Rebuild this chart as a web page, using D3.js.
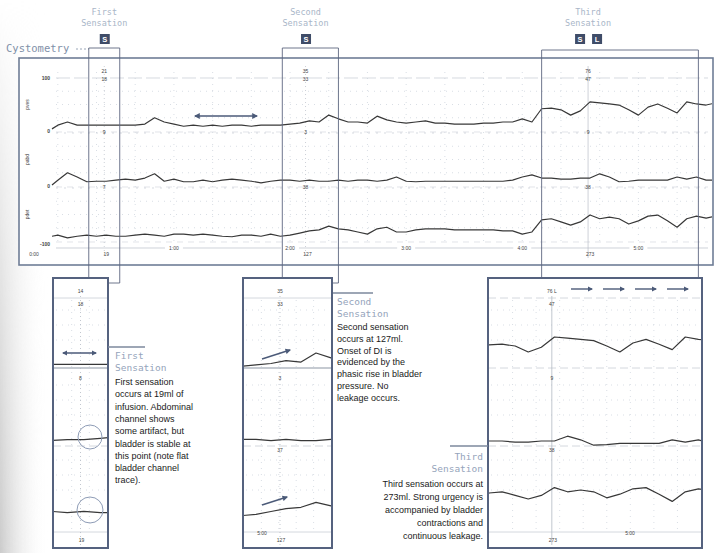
<!DOCTYPE html>
<html>
<head>
<meta charset="utf-8">
<title>Cystometry</title>
<script src="https://d3js.org/d3.v7.min.js"></script>
<style>
  body { margin: 0; background: #fff; }
  .mono { font-family: "DejaVu Sans Mono", monospace; }
  .note { font-family: "Liberation Sans", Arial, sans-serif; font-size: 9px; fill: #1a1a1a; }
  .tiny { font-family: "Liberation Sans", Arial, sans-serif; font-size: 5px; fill: #444; }
  .trace { fill: none; stroke: #383838; stroke-width: 1.2px; stroke-linejoin: round; }
  .grid { stroke: #cfd5de; stroke-width: 0.8px; stroke-dasharray: 1 5; }
</style>
</head>
<body>
<div id="chart"></div>
<script>
// sample times (s) of the recording
const time = [-3, 0, 5, 10, 15, 20, 25, 30, 35, 40, 45, 50, 55, 60, 65, 70, 75, 80, 85, 90,
  95, 100, 105, 110, 115, 120, 125, 130, 135, 140, 145, 150, 155, 160, 165, 170, 175, 180,
  185, 190, 195, 200, 205, 210, 215, 220, 225, 230, 235, 240, 245, 250, 255, 260, 265, 270,
  275, 280, 285, 290, 295, 300, 305, 310, 315, 320, 325, 330, 335, 340];

// bladder (vesical) pressure, cmH2O
const pves = [4, 11, 17, 11, 11, 11, 11, 11, 11, 11, 13, 25, 17, 13, 9, 11, 9, 11, 9, 11,
  11, 9, 11, 11, 11, 13, 15, 19, 17, 30, 23, 17, 17, 15, 28, 21, 17, 15,
  17, 19, 15, 15, 13, 13, 13, 15, 15, 17, 17, 23, 17, 42, 43, 40, 30, 38,
  55, 53, 51, 49, 40, 30, 45, 51, 43, 34, 55, 51, 49, 53];

// abdominal pressure, cmH2O
const pabd = [2, 11, 25, 17, 8, 9, 9, 11, 13, 11, 15, 23, 9, 13, 8, 8, 11, 8, 11, 13,
  11, 9, 6, 9, 11, 11, 9, 11, 9, 9, 11, 9, 11, 11, 9, 11, 17, 9,
  8, 9, 9, 9, 9, 9, 9, 9, 9, 9, 11, 17, 21, 15, 15, 13, 13, 15,
  15, 23, 17, 8, 9, 11, 11, 11, 11, 17, 13, 17, 11, 11];

// detrusor pressure, cmH2O
const pdet = [9, 11, 6, 9, 11, 9, 11, 9, 9, 11, 13, 11, 9, 13, 13, 11, 13, 11, 9, 8,
  11, 11, 9, 13, 9, 11, 15, 19, 21, 28, 23, 21, 17, 13, 23, 26, 17, 17,
  21, 23, 23, 23, 21, 21, 21, 21, 21, 19, 19, 13, 17, 40, 42, 36, 30, 36,
  49, 42, 45, 42, 32, 38, 47, 49, 38, 26, 42, 47, 43, 47];

const channels = ["pves", "pabd", "pdet"];
const series = [pves, pabd, pdet];
const bandLabels = [["100", "0"], [null, "0"], [null, "-100"]];

const sensationNames = ["First", "Second", "Third"];
const sensationTime = [24, 128, 274];
const sensationVolume = [19, 127, 273];
const sensationBadges = [["S"], ["S"], ["S", "L"]];
const windows = [[16, 32], [116, 145], [250, 331]];
const readTop = [["21", "18"], ["35", "33"], ["76", "47"]];
const readMid = ["9", "3", "9"];
const readLow = ["7", "38", "38"];
const minuteTicks = [60, 120, 180, 240, 300];
const minuteLabels = ["1:00", "2:00", "3:00", "4:00", "5:00"];

const insetTop = [["14", "18"], ["35", "33"], ["76", "47"]];
const insetMid = ["8", "3", "9"];
const insetLow = ["", "37", "38"];

const notes = [
  ["First sensation", "occurs at 19ml of", "infusion. Abdominal", "channel shows",
   "some artifact, but", "bladder is stable at", "this point (note flat",
   "bladder channel", "trace)."],
  ["Second sensation", "occurs at 127ml.", "Onset of DI is", "evidenced by the",
   "phasic rise in bladder", "pressure. No", "leakage occurs."],
  ["Third sensation occurs at", "273ml. Strong urgency is", "accompanied by bladder",
   "contractions and", "continuous leakage."]
];

const W = 714, H = 553;
const svg = d3.select("#chart").append("svg").attr("width", W).attr("height", H);
const defs = svg.append("defs");

// soft grey shading down the lower-left edge
const grad = defs.append("linearGradient").attr("id", "shade");
grad.append("stop").attr("offset", "0%").attr("stop-color", "#cbcbcb");
grad.append("stop").attr("offset", "100%").attr("stop-color", "#fff").attr("stop-opacity", 0);
const fade = defs.append("linearGradient").attr("id", "fade").attr("x1", 0).attr("x2", 0).attr("y1", 0).attr("y2", 1);
fade.append("stop").attr("offset", "0%").attr("stop-color", "#fff").attr("stop-opacity", 0);
fade.append("stop").attr("offset", "45%").attr("stop-color", "#fff").attr("stop-opacity", 0.5);
fade.append("stop").attr("offset", "100%").attr("stop-color", "#fff").attr("stop-opacity", 1);
defs.append("mask").attr("id", "fadeMask").append("rect")
  .attr("x", 0).attr("y", 0).attr("width", 50).attr("height", H).attr("fill", "url(#fade)");
svg.append("rect").attr("x", 0).attr("y", 0).attr("width", 48).attr("height", H)
  .attr("fill", "url(#shade)").attr("mask", "url(#fadeMask)");

const mk = (id, color) => {
  defs.append("marker").attr("id", id).attr("viewBox", "0 0 10 10").attr("refX", 8).attr("refY", 5)
    .attr("markerWidth", 4).attr("markerHeight", 4).attr("orient", "auto-start-reverse")
    .append("path").attr("d", "M0,0L10,5L0,10z").attr("fill", color);
};
mk("arr", "#4b5a78");

// ---------- main cystometry panel ----------
const panel = { x0: 19, x1: 713, y0: 58, y1: 265 };
const x = d3.scaleLinear().domain([-3, 337]).range([52, 710]);
const bandBase = [131, 186, 241];
const yMain = bandBase.map(b => d3.scaleLinear().domain([0, 100]).range([b, b - 53]));

svg.append("text").attr("class", "mono").attr("x", 6).attr("y", 52)
  .attr("font-size", 10.5).attr("fill", "#7f90a8").text("Cystometry");
svg.append("line").attr("x1", 76).attr("x2", 89).attr("y1", 49).attr("y2", 49)
  .attr("stroke", "#9aa6b8").attr("stroke-dasharray", "2 2");

svg.append("rect").attr("x", panel.x0).attr("y", panel.y0)
  .attr("width", panel.x1 - panel.x0).attr("height", panel.y1 - panel.y0)
  .attr("fill", "#fff").attr("stroke", "#6f7d96").attr("stroke-width", 1.6);

defs.append("clipPath").attr("id", "mainClip").append("rect")
  .attr("x", 50).attr("y", panel.y0).attr("width", panel.x1 - 51).attr("height", panel.y1 - panel.y0);

const gMain = svg.append("g");

// dotted grid
const gridT = d3.range(0, 340, 20);
gMain.selectAll("line.vg").data(gridT).join("line").attr("class", "grid")
  .attr("x1", d => x(d)).attr("x2", d => x(d)).attr("y1", 72).attr("y2", 244);
yMain.forEach((ys, i) => {
  gMain.selectAll("line.hg" + i).data([25, 50, 75]).join("line").attr("class", "grid")
    .attr("x1", 56).attr("x2", 708).attr("y1", d => ys(d)).attr("y2", d => ys(d));
  gMain.append("line").attr("x1", 56).attr("x2", 708).attr("y1", ys(100)).attr("y2", ys(100))
    .attr("stroke", "#c4cad3").attr("stroke-width", 0.7).attr("stroke-dasharray", i === 0 ? "14 4" : "2 6");
  gMain.append("line").attr("x1", 56).attr("x2", 708).attr("y1", ys(0) + 1).attr("y2", ys(0) + 1)
    .attr("stroke", "#d5d9e0").attr("stroke-width", 0.7).attr("stroke-dasharray", "6 5");
  if (bandLabels[i][0]) gMain.append("text").attr("class", "tiny").attr("x", 50).attr("y", ys(100) + 2)
    .attr("text-anchor", "end").attr("font-weight", "bold").text(bandLabels[i][0]);
  gMain.append("text").attr("class", "tiny").attr("x", 50).attr("y", ys(0) + (i === 2 ? 5 : 2))
    .attr("text-anchor", "end").attr("font-weight", "bold").text(bandLabels[i][1]);
  gMain.append("text").attr("class", "tiny").attr("transform", `translate(29,${ys(50)}) rotate(-90)`)
    .attr("text-anchor", "middle").attr("fill", "#666").text(channels[i]);
});
gMain.append("text").attr("class", "tiny").attr("x", 34).attr("y", 256)
  .attr("text-anchor", "middle").text("0:00");

// time axis
gMain.append("line").attr("x1", 56).attr("x2", 708).attr("y1", 248).attr("y2", 248)
  .attr("stroke", "#b9bfc8").attr("stroke-width", 0.7);
minuteTicks.forEach((t, i) => {
  gMain.append("rect").attr("x", x(t) - 9).attr("y", 245).attr("width", 18).attr("height", 6).attr("fill", "#fff");
  gMain.append("text").attr("class", "tiny").attr("x", x(t)).attr("y", 250)
    .attr("text-anchor", "middle").text(minuteLabels[i]);
});

// sensation markers
sensationTime.forEach((t, i) => {
  const xm = x(t);
  gMain.append("line").attr("x1", xm).attr("x2", xm).attr("y1", 66).attr("y2", 258)
    .attr("stroke", "#b7bdc7").attr("stroke-width", 0.7).attr("stroke-dasharray", i === 2 ? null : "1 3");
  gMain.append("text").attr("class", "tiny").attr("x", xm).attr("y", 73).attr("text-anchor", "middle").text(readTop[i][0]);
  gMain.append("text").attr("class", "tiny").attr("x", xm).attr("y", 81).attr("text-anchor", "middle").text(readTop[i][1]);
  gMain.append("text").attr("class", "tiny").attr("x", xm).attr("y", 134).attr("text-anchor", "middle").text(readMid[i]);
  gMain.append("text").attr("class", "tiny").attr("x", xm).attr("y", 189).attr("text-anchor", "middle").text(readLow[i]);
  gMain.append("text").attr("class", "tiny").attr("x", xm + 2).attr("y", 256).attr("text-anchor", "middle").text(sensationVolume[i]);
});

// traces
const mainLines = series.map((s, i) => d3.line().x((d, j) => x(time[j])).y(d => yMain[i](d)));
series.forEach((s, i) => {
  gMain.append("path").attr("class", "trace").attr("clip-path", "url(#mainClip)")
    .attr("d", mainLines[i](s));
});

// arrow on the flat stretch
gMain.append("line").attr("x1", 195).attr("x2", 257).attr("y1", 116).attr("y2", 116)
  .attr("stroke", "#4b5a78").attr("stroke-width", 1.5)
  .attr("marker-start", "url(#arr)").attr("marker-end", "url(#arr)");

// ---------- sensation headers & boxes ----------
const insets = [
  { x0: 53, x1: 108, k: 0.7, base: [372, 446, 519] },
  { x0: 243, x1: 332, k: 0.7, base: [374, 447, 522] },
  { x0: 488, x1: 702, k: 0.6, base: [370, 450, 517] }
];
const insetY0 = 278, insetY1 = 548;
const boxTop = [48, 48, 50];

windows.forEach((w, i) => {
  const bx0 = x(w[0]), bx1 = x(w[1]);
  const cx = x(sensationTime[i]);
  const ins = insets[i];
  // header
  const hdr = svg.append("text").attr("class", "mono").attr("font-size", 8.5)
    .attr("fill", "#a9b6c8").attr("text-anchor", "middle");
  hdr.append("tspan").attr("x", cx).attr("y", 15).text(sensationNames[i]);
  hdr.append("tspan").attr("x", cx).attr("y", 26).text("Sensation");
  const badges = sensationBadges[i];
  badges.forEach((b, j) => {
    const bxx = cx - (badges.length * 11 - 2) / 2 + j * 17 - (badges.length > 1 ? 3 : 0);
    svg.append("rect").attr("x", bxx).attr("y", 34).attr("width", 10).attr("height", 10)
      .attr("fill", "#3f4c68");
    svg.append("text").attr("x", bxx + 5).attr("y", 42).attr("text-anchor", "middle")
      .attr("font-family", "Liberation Sans, Arial, sans-serif").attr("font-size", 7.5)
      .attr("font-weight", "bold").attr("fill", "#fff").text(b);
  });
  // highlight box with leader down to the inset
  const rightEnd = bx1 > ins.x1 ? 283 : insetY0;
  let d = `M${bx0},${insetY0}V${boxTop[i]}H${bx1}V${rightEnd}`;
  if (bx1 > ins.x1) d += `H${ins.x1}`;
  svg.append("path").attr("d", d).attr("fill", "none").attr("stroke", "#5d6780").attr("stroke-width", 0.9);
});

// ---------- insets ----------
insets.forEach((ins, i) => {
  const g = svg.append("g");
  const xi = d3.scaleLinear().domain(windows[i]).range([ins.x0 + 1, ins.x1 - 1]);
  const yi = ins.base.map(b => d3.scaleLinear().domain([0, 100]).range([b, b - 100 * ins.k]));
  const id = "clipInset" + i;
  defs.append("clipPath").attr("id", id).append("rect")
    .attr("x", ins.x0).attr("y", insetY0).attr("width", ins.x1 - ins.x0).attr("height", insetY1 - insetY0);

  g.append("rect").attr("x", ins.x0).attr("y", insetY0).attr("width", ins.x1 - ins.x0)
    .attr("height", insetY1 - insetY0).attr("fill", "#fff");

  // grid
  const step = (windows[i][1] - windows[i][0]) / (i === 0 ? 3 : i === 1 ? 5 : 9);
  const vt = d3.range(windows[i][0] + step, windows[i][1] - step / 2, step);
  g.selectAll("line.v").data(vt).join("line").attr("class", "grid")
    .attr("x1", d => xi(d)).attr("x2", d => xi(d)).attr("y1", 300).attr("y2", 530);
  [310, 325, 340, 385, 400, 415, 460, 475, 490].forEach(yy => {
    g.append("line").attr("class", "grid").attr("x1", ins.x0 + 3).attr("x2", ins.x1 - 3)
      .attr("y1", yy).attr("y2", yy);
  });
  g.append("line").attr("x1", ins.x0).attr("x2", ins.x1).attr("y1", 298).attr("y2", 298)
    .attr("stroke", "#c9ced6").attr("stroke-width", 0.8).attr("stroke-dasharray", i === 2 ? "8 4" : null);
  g.append("line").attr("x1", ins.x0).attr("x2", ins.x1).attr("y1", 368).attr("y2", 368)
    .attr("stroke", i === 2 ? "#c9ced6" : "#8c95a3").attr("stroke-width", i === 2 ? 0.8 : 1.1)
    .attr("stroke-dasharray", i === 2 ? "8 4" : null);
  g.append("line").attr("x1", ins.x0).attr("x2", ins.x1).attr("y1", 446).attr("y2", 446)
    .attr("stroke", "#c9ced6").attr("stroke-width", 0.8).attr("stroke-dasharray", "8 4");
  g.append("line").attr("x1", ins.x0).attr("x2", ins.x1).attr("y1", 532).attr("y2", 532)
    .attr("stroke", "#c9ced6").attr("stroke-width", 0.8);

  // marker line & readouts
  const xm = xi(sensationTime[i]);
  g.append("line").attr("x1", xm).attr("x2", xm).attr("y1", 296).attr("y2", 545)
    .attr("stroke", "#b3b9c3").attr("stroke-width", 0.8).attr("stroke-dasharray", i === 2 ? null : "1 3");
  const lbl = (xx, yy, t) => g.append("text").attr("class", "tiny").attr("font-size", 5.5)
    .attr("x", xx).attr("y", yy).attr("text-anchor", "middle").text(t);
  lbl(xm, 293, insetTop[i][0] + (i === 2 ? "  L" : ""));
  lbl(xm, 306, insetTop[i][1]);
  lbl(xm, 380, insetMid[i]);
  lbl(xm, 452, insetLow[i]);
  lbl(xm + 1, 542, sensationVolume[i]);
  if (i > 0) lbl(i === 1 ? 262 : 630, 535, "5:00");

  series.forEach((s, c) => {
    const line = d3.line().x((d, j) => xi(time[j])).y(d => yi[c](d));
    g.append("path").attr("class", "trace").attr("clip-path", `url(#${id})`)
      .attr("stroke-width", 1.5).attr("d", line(s));
  });

  g.append("rect").attr("x", ins.x0).attr("y", insetY0).attr("width", ins.x1 - ins.x0)
    .attr("height", insetY1 - insetY0).attr("fill", "none")
    .attr("stroke", "#55627f").attr("stroke-width", 2);
});

// inset annotations
const ann = svg.append("g").attr("stroke", "#4b5a78").attr("stroke-width", 1.4).attr("fill", "none");
ann.append("line").attr("x1", 63).attr("x2", 96).attr("y1", 353).attr("y2", 353)
  .attr("marker-start", "url(#arr)").attr("marker-end", "url(#arr)");
ann.append("line").attr("x1", 262).attr("x2", 290).attr("y1", 359).attr("y2", 350).attr("marker-end", "url(#arr)");
ann.append("line").attr("x1", 262).attr("x2", 287).attr("y1", 505).attr("y2", 497).attr("marker-end", "url(#arr)");
[[571, 592], [603, 624], [635, 656], [667, 688]].forEach(p => {
  ann.append("line").attr("x1", p[0]).attr("x2", p[1]).attr("y1", 289).attr("y2", 289).attr("marker-end", "url(#arr)");
});
svg.append("circle").attr("cx", 90).attr("cy", 437).attr("r", 12).attr("fill", "none").attr("stroke", "#8e9cb6");
svg.append("circle").attr("cx", 90).attr("cy", 510).attr("r", 13).attr("fill", "none").attr("stroke", "#8e9cb6");

// ---------- notes ----------
const noteLayout = [
  { x: 115, anchor: "start", hy: 359, by: 385, step: 12.3, lead: [108, 145, 347] },
  { x: 337, anchor: "start", hy: 305, by: 330, step: 11.8, lead: [333, 373, 293] },
  { x: 483, anchor: "end", hy: 460, by: 487, step: 13, lead: [450, 488, 446] }
];
noteLayout.forEach((n, i) => {
  svg.append("line").attr("x1", n.lead[0]).attr("x2", n.lead[1]).attr("y1", n.lead[2]).attr("y2", n.lead[2])
    .attr("stroke", "#7d889c").attr("stroke-width", 1.4);
  const h = svg.append("text").attr("class", "mono").attr("font-size", 9.5)
    .attr("fill", "#95a4bb").attr("text-anchor", n.anchor);
  h.append("tspan").attr("x", n.x).attr("y", n.hy).text(sensationNames[i]);
  h.append("tspan").attr("x", n.x).attr("y", n.hy + 12).text("Sensation");
  svg.append("text").attr("class", "note").attr("text-anchor", n.anchor)
    .selectAll("tspan").data(notes[i]).join("tspan")
    .attr("x", n.x).attr("y", (d, j) => n.by + j * n.step).text(d => d);
});
</script>
</body>
</html>
